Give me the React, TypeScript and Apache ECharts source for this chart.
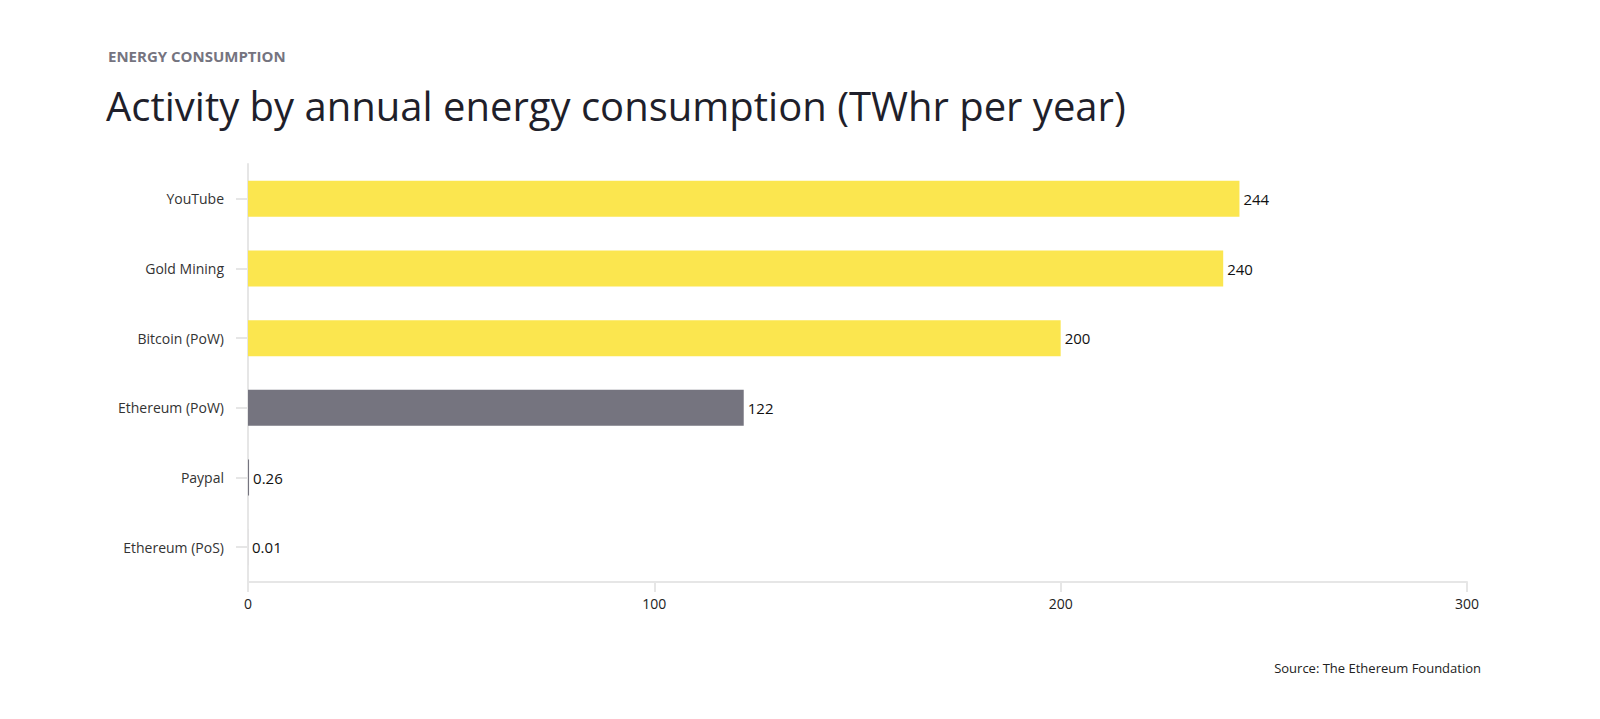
import * as echarts from "echarts"
import { useEffect, useRef } from "react"

const categories = ["Ethereum (PoS)", "Paypal", "Ethereum (PoW)", "Bitcoin (PoW)", "Gold Mining", "YouTube"]
const values = [0.01, 0.26, 122, 200, 240, 244]
const barColors = ["#75747f", "#75747f", "#75747f", "#fbe64f", "#fbe64f", "#fbe64f"]

const font = "'Open Sans', 'Noto Sans', sans-serif"

export default function App() {
  const ref = useRef<HTMLDivElement>(null)

  useEffect(() => {
    if (!ref.current) return
    const chart = echarts.init(ref.current, null, { renderer: "svg" })
    chart.setOption({
      animation: false,
      textStyle: { fontFamily: font },
      grid: { left: 240, right: 125, top: 156, bottom: 129 },
      title: [
        {
          text: "ENERGY CONSUMPTION",
          left: 95,
          top: 35,
          textStyle: { fontSize: 15, fontWeight: "bold", color: "#75747f", fontFamily: font },
        },
        {
          text: "Activity by annual energy consumption (TWhr per year)",
          left: 93,
          top: 72,
          textStyle: { fontSize: 40, fontWeight: "normal", color: "#1f1f2b", fontFamily: font },
        },
        {
          text: "Source: The Ethereum Foundation",
          right: 106,
          top: 648,
          textStyle: { fontSize: 13, fontWeight: "normal", color: "#222", fontFamily: font },
        },
      ],
      xAxis: {
        type: "value",
        min: 0,
        max: 300,
        interval: 100,
        axisLine: { show: true, lineStyle: { color: "#e6e6e6", width: 2 } },
        axisTick: { show: true, length: 10, lineStyle: { color: "#e6e6e6", width: 2 } },
        axisLabel: { color: "#222", fontSize: 14, margin: 14 },
        splitLine: { show: false },
      },
      yAxis: {
        type: "category",
        data: categories,
        axisLine: { show: true, lineStyle: { color: "#e6e6e6", width: 2 } },
        axisTick: { show: true, alignWithLabel: true, length: 12, lineStyle: { color: "#e6e6e6", width: 2 } },
        axisLabel: { color: "#333", fontSize: 14, margin: 24 },
      },
      series: [
        {
          type: "bar",
          data: values.map((v, i) => ({ value: v, itemStyle: { color: barColors[i] } })),
          barWidth: 36,
          label: {
            show: true,
            position: "right",
            distance: 4,
            color: "#111",
            fontSize: 15,
            formatter: (p: any) => String(p.value),
          },
        },
      ],
    })
    return () => chart.dispose()
  }, [])

  return <div ref={ref} style={{ width: 1584, height: 703, background: "#fff" }} />
}
